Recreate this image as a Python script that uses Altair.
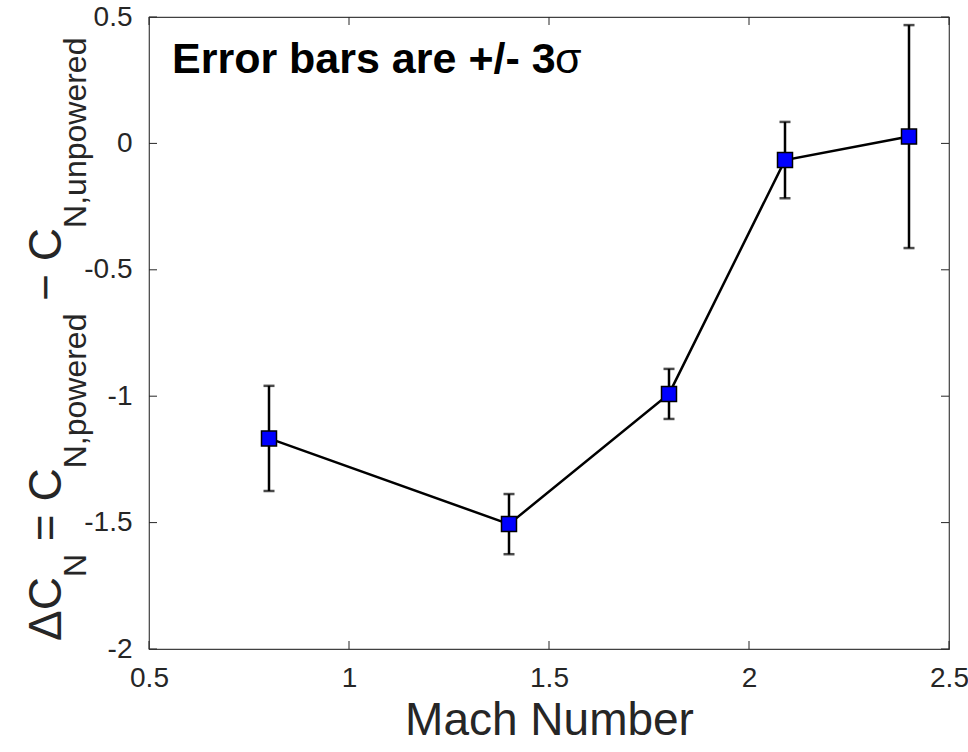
import altair as alt
import pandas as pd

# ---- data ----
mach = [0.8, 1.4, 1.8, 2.09, 2.4]
delta_cn = [-1.167, -1.506, -0.991, -0.066, 0.027]
err_3sigma = [0.208, 0.119, 0.099, 0.151, 0.441]
x_ticks = [0.5, 1.0, 1.5, 2.0, 2.5]
y_ticks = [-2.0, -1.5, -1.0, -0.5, 0.0, 0.5]

df = pd.DataFrame({"mach": mach, "dcn": delta_cn, "err": err_3sigma})
df["lo"] = df["dcn"] - df["err"]
df["hi"] = df["dcn"] + df["err"]
xt = pd.DataFrame({"v": x_ticks})
yt = pd.DataFrame({"v": y_ticks})
one = pd.DataFrame({"k": [0]})

W, H = 800, 632
FONT = "Liberation Sans"
AX = "#262626"

xs = alt.Scale(domain=[0.5, 2.5], nice=False, zero=False)
ys = alt.Scale(domain=[-2, 0.5], nice=False, zero=False)

x_axis = alt.Axis(values=x_ticks, labelExpr="datum.value + ''", grid=False, ticks=False,
                  tickSize=0, domain=False, labelFontSize=28, labelFont=FONT,
                  labelColor=AX, labelPadding=15, labelFlush=False, labelOverlap=False,
                  title="Mach Number",
                  titleFontSize=46, titleFont=FONT, titleFontWeight="normal",
                  titleColor=AX, titlePadding=6)
y_axis = alt.Axis(values=y_ticks, labelExpr="datum.value + ''", grid=False, ticks=False,
                  tickSize=0, domain=False, labelFontSize=28, labelFont=FONT,
                  labelColor=AX, labelPadding=17, labelFlush=False, labelOverlap=False,
                  title=None)

X = lambda f: alt.X(f, scale=xs, axis=x_axis)
Y = lambda f: alt.Y(f, scale=ys, axis=y_axis)

base = alt.Chart(df)
err_rule = base.mark_rule(color="black", strokeWidth=2.5).encode(x=X("mach:Q"), y=Y("lo:Q"), y2="hi:Q")
cap_lo = base.mark_tick(orient="horizontal", size=11, thickness=2.5, color="black").encode(x=X("mach:Q"), y=Y("lo:Q"))
cap_hi = base.mark_tick(orient="horizontal", size=11, thickness=2.5, color="black").encode(x=X("mach:Q"), y=Y("hi:Q"))
line = base.mark_line(color="black", strokeWidth=2.5).encode(x=X("mach:Q"), y=Y("dcn:Q"))
pts = base.mark_square(size=225, fill="#0000ff", stroke="black", strokeWidth=1.5,
                       opacity=1, fillOpacity=1).encode(x=X("mach:Q"), y=Y("dcn:Q"))

TL = 8
tk = dict(color=AX, strokeWidth=1)
t_bot = alt.Chart(xt).mark_rule(**tk).encode(x=X("v:Q"), y=alt.value(H), y2=alt.value(H - TL))
t_top = alt.Chart(xt).mark_rule(**tk).encode(x=X("v:Q"), y=alt.value(0), y2=alt.value(TL))
t_left = alt.Chart(yt).mark_rule(**tk).encode(y=Y("v:Q"), x=alt.value(0), x2=alt.value(TL))
t_right = alt.Chart(yt).mark_rule(**tk).encode(y=Y("v:Q"), x=alt.value(W), x2=alt.value(W - TL))

def txt(s, x, y, size, weight="normal", angle=0, font=FONT, color=AX):
    kw = dict(align="left", baseline="alphabetic", fontSize=size, font=font,
              fontWeight=weight, color=color)
    if angle:
        kw["angle"] = angle
    return alt.Chart(one).mark_text(**kw).encode(
        x=alt.value(x), y=alt.value(y), text=alt.value(s))

M, S = 46, 32
XM, XS = -88, -63
ylabel = [
    txt("ΔC", XM, 624, M, angle=270),
    txt("N", XS, 560.1, S, angle=270),
    txt("= C", XM, 524.2, M, angle=270),
    txt("N,powered", XS, 451.3, S, angle=270),
    txt("− C", XM, 283.8, M, angle=270),
    txt("N,unpowered", XS, 210.9, S, angle=270),
]

note = [
    txt("Error bars are +/- 3", 23, 56, 43, weight="bold", color="black"),
    txt("σ", 406, 56, 43, color="black"),
]

chart = alt.layer(
    t_bot, t_top, t_left, t_right, err_rule, cap_lo, cap_hi, line, pts, *ylabel, *note
).properties(
    width=W, height=H,
    autosize=alt.AutoSizeParams(type="none"),
    padding={"left": 149, "top": 17, "right": 19, "bottom": 103},
    background="white",
).configure_view(stroke="#404040", strokeWidth=1.2)

chart.save("out.html", embed_options={"renderer": "svg", "actions": False})
